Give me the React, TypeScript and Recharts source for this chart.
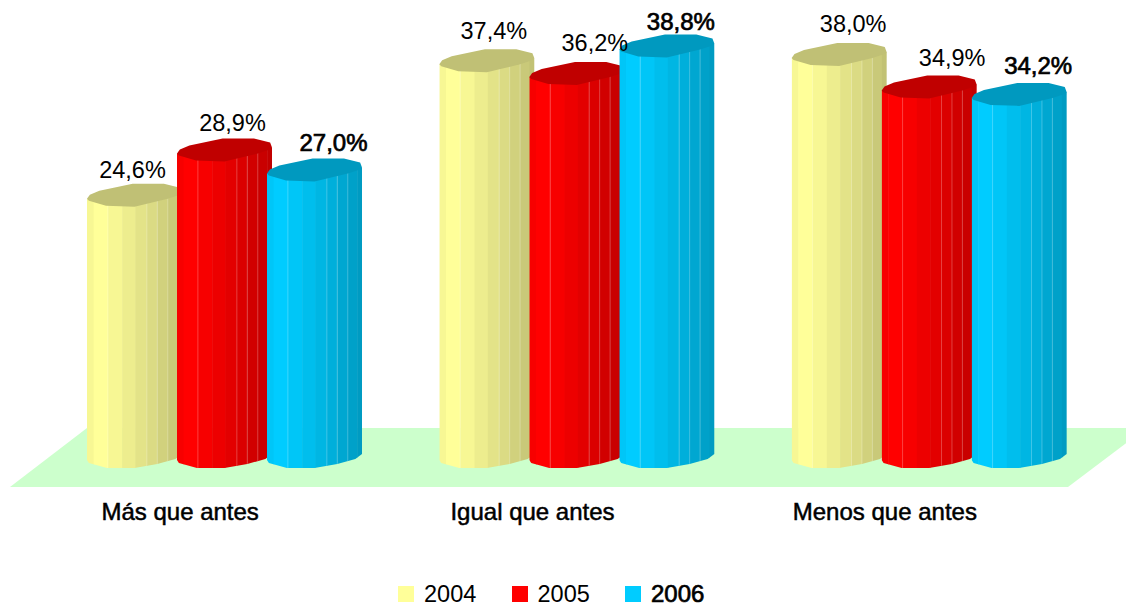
import { Bar, BarChart, LabelList, Legend, XAxis, YAxis } from "recharts";
import { useId } from "react";

const categories = ["Más que antes", "Igual que antes", "Menos que antes"];
const years = ["2004", "2005", "2006"];
const values2004 = [24.6, 37.4, 38.0];
const values2005 = [28.9, 36.2, 34.9];
const values2006 = [27.0, 38.8, 34.2];

const rows = categories.map((name, i) => ({
  name,
  y2004: values2004[i],
  y2005: values2005[i],
  y2006: values2006[i],
}));

const fontFamily = "'Liberation Sans', Arial, sans-serif";
const bodyColors = [
  [255, 255, 153],
  [255, 0, 0],
  [0, 204, 255],
];
const capColors = ["#c0c075", "#c00000", "#0099bf"];

// label nudges, the original labels sit a bit off-centre
const labelDx = [
  [-2, 8, 19],
  [7, 18, 14],
  [14, 23, 19],
];
const labelDy = [
  [-25, -27, -27],
  [-29, -30, -24],
  [-30, -29, -28],
];

// cylinder outline, [fraction of width, px offset from the value / base line]
const capOutline = [
  [0, 4], [0.03, 0], [0.13, -4], [0.48, -11], [0.81, -11], [0.98, -7], [1, -2],
  [0.98, 0], [0.85, 4], [0.5, 12], [0.2, 11], [0.02, 6],
];
const bottomOutline = [
  [0, 7], [0.02, 10], [0.21, 15], [0.5, 15], [0.74, 11], [0.93, 6], [1, 1],
];
const stripEdges = [0, 0.07, 0.22, 0.37, 0.51, 0.63, 0.74, 0.85, 0.95, 1];
const stripShade = [0.97, 1, 0.97, 0.93, 0.89, 0.86, 0.82, 0.79, 0.76];
const hairlines = [0.22, 0.63, 0.74, 0.85];

function Cylinder(props: any) {
  const { x, y, width, height, seriesIndex } = props;
  const id = useId();
  const base = y + height;
  const body = bodyColors[seriesIndex];
  const bodyPoints = [
    [x, y + 4],
    ...bottomOutline.map(([f, d]) => [x + f * width, base + d]),
    [x + width, y - 2],
  ];
  const capPoints = capOutline.map(([f, d]) => [x + f * width, y + d]);
  const toPoints = (pts: number[][]) => pts.map((p) => p.join(",")).join(" ");
  const bottom = base + 20;

  return (
    <g>
      <clipPath id={id}>
        <polygon points={toPoints(bodyPoints)} />
      </clipPath>
      <g clipPath={`url(#${id})`}>
        {stripShade.map((shade, i) => {
          const left = x + stripEdges[i] * width;
          const right = x + stripEdges[i + 1] * width;
          const [r, g, b] = body.map((c) => Math.round(c * shade));
          return (
            <rect
              key={i}
              x={left}
              y={y - 12}
              width={right - left + 0.5}
              height={bottom - y + 12}
              fill={`rgb(${r},${g},${b})`}
            />
          );
        })}
        {hairlines.map((f) => (
          <line
            key={f}
            x1={x + f * width}
            x2={x + f * width}
            y1={y}
            y2={bottom}
            stroke="#fff"
            strokeOpacity={0.25}
            strokeWidth={1}
          />
        ))}
      </g>
      <polygon points={toPoints(capPoints)} fill={capColors[seriesIndex]} />
    </g>
  );
}

function ValueLabel(seriesIndex: number) {
  return function Label(props: any) {
    const { x, y, width, value, index } = props;
    const bold = seriesIndex === 2;
    return (
      <text
        x={x + width / 2 + labelDx[index][seriesIndex]}
        y={y + labelDy[index][seriesIndex]}
        textAnchor="middle"
        dominantBaseline="central"
        fontFamily={fontFamily}
        fontSize={bold ? 24 : 23.5}
        fill="#000"
        stroke={bold ? "#000" : "none"}
        strokeWidth={bold ? 0.7 : 0}
      >
        {value.toFixed(1).replace(".", ",")}%
      </text>
    );
  };
}

function CategoryTick({ x, y, payload }: any) {
  return (
    <text
      x={x - 44}
      y={y + 59}
      textAnchor="middle"
      fontFamily={fontFamily}
      fontSize={24}
      fill="#000"
      stroke="#000"
      strokeWidth={0.5}
    >
      {payload.value}
    </text>
  );
}

function Floor() {
  return (
    <polygon points="10,487 1068,487 1146,428 87,428" fill="#ccffcc" />
  );
}

function YearLegend() {
  return (
    <div
      style={{
        display: "flex",
        paddingLeft: 398,
        fontFamily,
        fontSize: 23.5,
        lineHeight: "26px",
      }}
    >
      {years.map((year, i) => (
        <div key={year} style={{ display: "flex", alignItems: "center", width: 113.5 }}>
          <span
            style={{
              width: 16,
              height: 16,
              marginRight: 10,
              background: `rgb(${bodyColors[i].join(",")})`,
            }}
          />
          <span
            style={i === 2 ? { WebkitTextStroke: "0.7px #000", fontSize: 24 } : undefined}
          >
            {year}
          </span>
        </div>
      ))}
    </div>
  );
}

export default function App() {
  return (
    <div style={{ position: "absolute", left: 0, top: 0, width: 1126, height: 605 }}>
      <BarChart
        width={1126}
        height={605}
        data={rows}
        margin={{ top: 33, right: 21, bottom: 72, left: 48 }}
        barSize={95}
        barGap={-5}
      >
        <Floor />
        <XAxis
          dataKey="name"
          axisLine={false}
          tickLine={false}
          height={80}
          interval={0}
          tick={<CategoryTick />}
        />
        <YAxis hide domain={[0, 40]} />
        <Legend
          verticalAlign="middle"
          align="center"
          content={<YearLegend />}
          wrapperStyle={{ top: 581, left: 0, width: 1126 }}
        />
        {years.map((year, i) => (
          <Bar
            key={year}
            dataKey={`y${year}`}
            name={year}
            isAnimationActive={false}
            shape={(p: any) => <Cylinder {...p} seriesIndex={i} />}
          >
            <LabelList dataKey={`y${year}`} content={ValueLabel(i)} />
          </Bar>
        ))}
      </BarChart>
    </div>
  );
}
